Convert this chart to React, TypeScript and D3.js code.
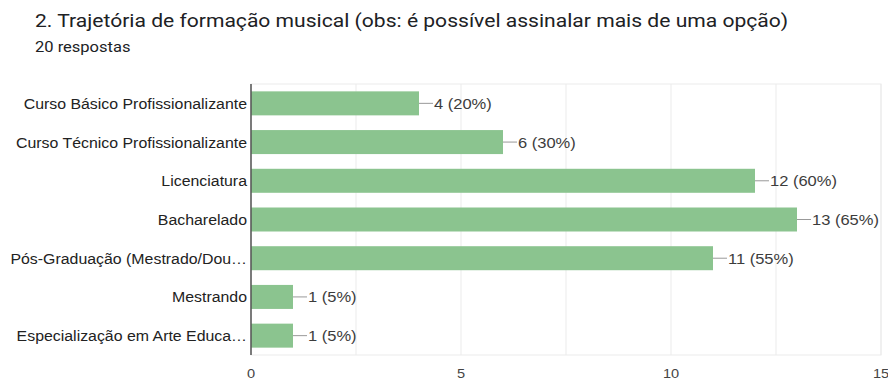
import React from "react";
import * as d3 from "d3";

const title = "2. Trajetória de formação musical (obs: é possível assinalar mais de uma opção)";
const subtitle = "20 respostas";
const categories = [
  "Curso Básico Profissionalizante",
  "Curso Técnico Profissionalizante",
  "Licenciatura",
  "Bacharelado",
  "Pós-Graduação (Mestrado/Dou…",
  "Mestrando",
  "Especialização em Arte Educa…",
];
const values = [4, 6, 12, 13, 11, 1, 1];
const percents = ["20%", "30%", "60%", "65%", "55%", "5%", "5%"];
const tickValues = [0, 5, 10, 15];
const gridValues = [0, 2.5, 5, 7.5, 10, 12.5, 15];

const W = 888;
const H = 381;
const left = 251;
const right = 881;
const top = 84;
const bottom = 355;

function SText(props: {
  x: number;
  y: number;
  sx: number;
  anchor?: string;
  family: string;
  size: number;
  fill: string;
  children: React.ReactNode;
}) {
  return (
    <text
      transform={`translate(${props.x},${props.y}) scale(${props.sx},1)`}
      textAnchor={props.anchor || "start"}
      fontFamily={props.family}
      fontSize={props.size}
      fill={props.fill}
    >
      {props.children}
    </text>
  );
}

export default function App() {
  const x = d3.scaleLinear().domain([0, 15]).range([left, right]);
  const y = d3
    .scaleBand<string>()
    .domain(categories)
    .range([top, bottom])
    .paddingInner(0.38)
    .paddingOuter(0.19);
  const font = "Arial, 'Liberation Sans', sans-serif";
  return (
    <svg
      width={W}
      height={H}
      style={{ position: "absolute", left: 0, top: 0, background: "#fff" }}
    >
      <SText x={35} y={27} sx={1.14} family="Roboto, sans-serif" size={18.5} fill="#202124">
        {title}
      </SText>
      <SText x={35} y={52} sx={1.18} family="Roboto, sans-serif" size={14} fill="#202124">
        {subtitle}
      </SText>
      <rect x={left} y={top} width={right - left} height={bottom - top} fill="none" stroke="#ebebeb" />
      {gridValues.map((g) => (
        <line key={g} x1={x(g)} x2={x(g)} y1={top} y2={bottom} stroke="#ebebeb" strokeWidth={1} />
      ))}
      {categories.map((c, i) => {
        const by = y(c)!;
        const bh = y.bandwidth();
        const cy = by + bh / 2;
        const xe = x(values[i]);
        return (
          <g key={c}>
            <rect x={left} y={by} width={xe - left} height={bh} fill="#8bc48f" />
            <line x1={xe} x2={xe + 14} y1={cy} y2={cy} stroke="#999" strokeWidth={1} />
            <SText x={xe + 15} y={cy + 5.5} sx={1.1} family={font} size={15} fill="#3c3c3c">
              {`${values[i]} (${percents[i]})`}
            </SText>
            <SText x={left - 4} y={cy + 5.5} sx={1.06} anchor="end" family={font} size={15} fill="#222">
              {c}
            </SText>
          </g>
        );
      })}
      <line x1={left} x2={left} y1={top} y2={bottom} stroke="#555" strokeWidth={1.5} />
      {tickValues.map((t) => (
        <SText key={t} x={x(t)} y={378} sx={1.08} anchor="middle" family={font} size={13.5} fill="#444">
          {t}
        </SText>
      ))}
    </svg>
  );
}
